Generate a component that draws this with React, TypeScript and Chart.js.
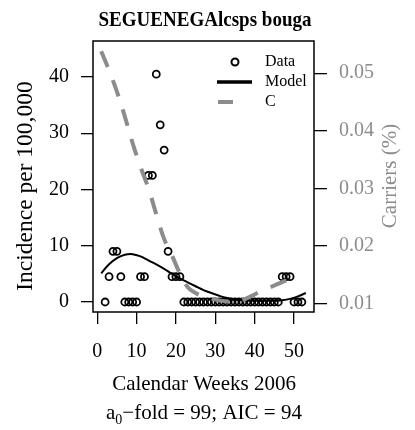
import { useEffect, useRef } from 'react';
import { Chart, registerables } from 'chart.js';
Chart.register(...registerables);

const FONT = "'Liberation Serif', 'Times New Roman', serif";
const GREY = '#8c8c8c';

// Observed incidence (per 100,000) by calendar week
const dataWeeks = [2, 3, 4, 5, 6, 7, 8, 9, 10, 11, 12, 13, 14, 15, 16, 17, 18, 19, 20, 21, 22, 23, 24, 25, 26, 27, 28, 29, 30, 31, 32, 33, 34, 35, 36, 37, 38, 39, 40, 41, 42, 43, 44, 45, 46, 47, 48, 49, 50, 51, 52];
const incidence = [0, 4.5, 9, 9, 4.5, 0, 0, 0, 0, 4.5, 4.5, 22.5, 22.5, 40.5, 31.5, 27, 9, 4.5, 4.5, 4.5, 0, 0, 0, 0, 0, 0, 0, 0, 0, 0, 0, 0, 0, 0, 0, 0, 0, 0, 0, 0, 0, 0, 0, 0, 0, 4.5, 4.5, 4.5, 0, 0, 0];

// Model fit
const modelWeeks = [1, 3, 5, 7, 9, 11, 13, 15, 17, 19, 21, 23, 25, 27, 29, 31, 33, 35, 37, 39, 41, 43, 45, 47, 49, 51, 53];
const modelValues = [5.1, 6.7, 7.8, 8.4, 8.5, 8.1, 7.4, 6.7, 5.9, 5.0, 4.2, 3.5, 2.8, 2.1, 1.6, 1.1, 0.7, 0.45, 0.3, 0.22, 0.2, 0.2, 0.22, 0.3, 0.55, 1.0, 1.6];

// Carriers (C)
const carrierWeeks = [1, 3, 5, 7, 9, 11, 13, 15, 17, 19, 21, 23, 25, 27, 29, 31, 33, 35, 37, 39, 41, 43, 45, 47, 49, 51];
const carrierValues = [0.0538, 0.0505, 0.0468, 0.0425, 0.0378, 0.0337, 0.0300, 0.0255, 0.0212, 0.0183, 0.0152, 0.0128, 0.0118, 0.0112, 0.0108, 0.0105, 0.0103, 0.0103, 0.0106, 0.0112, 0.0119, 0.0125, 0.0131, 0.0137, 0.0141, 0.0143];

const xTicks = [0, 10, 20, 30, 40, 50];
const yTicks = [0, 10, 20, 30, 40];
const y2Ticks = [0.01, 0.02, 0.03, 0.04, 0.05];

const TITLE = 'SEGUENEGAlcsps bouga';
const X_TITLE = 'Calendar Weeks 2006';
const Y_TITLE = 'Incidence per 100,000';
const Y2_TITLE = 'Carriers (%)';
const legendLabels = ['Data', 'Model', 'C'];

const rPlugin = {
  id: 'rstyle',
  afterDraw(chart: any) {
    const { ctx, chartArea: a } = chart;
    ctx.save();
    // box
    ctx.strokeStyle = '#000';
    ctx.lineWidth = 1.5;
    ctx.setLineDash([]);
    ctx.strokeRect(a.left, a.top, a.right - a.left, a.bottom - a.top);

    // title (condensed to match Times Bold width)
    ctx.fillStyle = '#000';
    ctx.textAlign = 'center';
    ctx.textBaseline = 'middle';
    ctx.font = `bold 22px ${FONT}`;
    const tw = ctx.measureText(TITLE).width;
    ctx.save();
    ctx.translate(205, 20);
    ctx.scale(213 / tw, 1);
    ctx.fillText(TITLE, 0, 0);
    ctx.restore();

    // x title
    ctx.font = `21px ${FONT}`;
    ctx.fillText(X_TITLE, 204, 384);

    // subtitle with subscript
    ctx.textBaseline = 'alphabetic';
    ctx.textAlign = 'left';
    const mainFont = `21px ${FONT}`;
    const subFont = `14px ${FONT}`;
    ctx.font = mainFont;
    const w1 = ctx.measureText('a').width;
    const rest = '\u2212fold = 99; AIC = 94';
    const w3 = ctx.measureText(rest).width;
    ctx.font = subFont;
    const w2 = ctx.measureText('0').width;
    const x0 = 204 - (w1 + w2 + w3) / 2;
    ctx.font = mainFont;
    ctx.fillText('a', x0, 419);
    ctx.font = subFont;
    ctx.fillText('0', x0 + w1, 424);
    ctx.font = mainFont;
    ctx.fillText(rest, x0 + w1 + w2, 419);

    // y titles
    ctx.textAlign = 'center';
    ctx.textBaseline = 'middle';
    ctx.save();
    ctx.translate(26, 186);
    ctx.rotate(-Math.PI / 2);
    ctx.font = `23.5px ${FONT}`;
    ctx.fillText(Y_TITLE, 0, 0);
    ctx.restore();
    ctx.save();
    ctx.translate(390, 176);
    ctx.rotate(-Math.PI / 2);
    ctx.font = `21px ${FONT}`;
    ctx.fillStyle = GREY;
    ctx.fillText(Y2_TITLE, 0, 0);
    ctx.restore();

    // legend
    ctx.font = `16px ${FONT}`;
    ctx.textAlign = 'left';
    ctx.fillStyle = '#000';
    ctx.fillText(legendLabels[0], 265, 62);
    ctx.fillText(legendLabels[1], 265, 82);
    ctx.fillText(legendLabels[2], 265, 102);
    ctx.beginPath();
    ctx.lineWidth = 2;
    ctx.arc(235, 62, 3.5, 0, Math.PI * 2);
    ctx.stroke();
    ctx.beginPath();
    ctx.lineWidth = 3.5;
    ctx.moveTo(217, 82);
    ctx.lineTo(252, 82);
    ctx.stroke();
    ctx.beginPath();
    ctx.strokeStyle = GREY;
    ctx.lineWidth = 4;
    ctx.moveTo(218, 102);
    ctx.lineTo(233, 102);
    ctx.stroke();
    ctx.restore();
  },
};

export default function App() {
  const ref = useRef<HTMLCanvasElement>(null);
  useEffect(() => {
    if (!ref.current) return;
    const tickFont = { family: FONT, size: 20 };
    const chart = new Chart(ref.current, {
      type: 'scatter',
      data: {
        datasets: [
          {
            label: legendLabels[2],
            data: carrierWeeks.map((w, i) => ({ x: w, y: carrierValues[i] })),
            yAxisID: 'y2',
            showLine: true,
            borderColor: GREY,
            borderWidth: 4,
            borderDash: [17, 14],
            pointRadius: 0,
            tension: 0.4,
            order: 0,
          } as any,
          {
            label: legendLabels[1],
            data: modelWeeks.map((w, i) => ({ x: w, y: modelValues[i] })),
            yAxisID: 'y',
            showLine: true,
            borderColor: '#000',
            borderWidth: 2,
            pointRadius: 0,
            tension: 0.4,
            order: 1,
          } as any,
          {
            label: legendLabels[0],
            data: dataWeeks.map((w, i) => ({ x: w, y: incidence[i] })),
            yAxisID: 'y',
            showLine: false,
            borderColor: '#000',
            backgroundColor: 'rgba(0,0,0,0)',
            borderWidth: 1.8,
            pointRadius: 3.5,
            order: 2,
          } as any,
        ],
      },
      options: {
        responsive: false,
        animation: false,
        layout: { padding: { top: 41, left: 0, right: 0, bottom: 0 } },
        plugins: { legend: { display: false }, tooltip: { enabled: false }, title: { display: false } },
        scales: {
          x: {
            type: 'linear',
            position: 'bottom',
            min: -1.08,
            max: 55.08,
            afterBuildTicks: (s: any) => { s.ticks = xTicks.map((v) => ({ value: v })); },
            afterFit: (s: any) => { s.height = 118; },
            grid: { drawOnChartArea: false, drawTicks: true, tickLength: 12, color: '#000', lineWidth: 1.3 },
            border: { display: false },
            ticks: { font: tickFont, color: '#000', padding: 16, maxRotation: 0, autoSkip: false, callback: (v: any) => String(v) },
          },
          y: {
            position: 'left',
            min: -1.78,
            max: 46.4,
            afterBuildTicks: (s: any) => { s.ticks = yTicks.map((v) => ({ value: v })); },
            afterFit: (s: any) => { s.width = 93; },
            grid: { drawOnChartArea: false, drawTicks: true, tickLength: 12, color: '#000', lineWidth: 1.3 },
            border: { display: false },
            ticks: { font: tickFont, color: '#000', padding: 12, autoSkip: false, callback: (v: any) => String(v) },
          },
          y2: {
            position: 'right',
            min: 0.00849,
            max: 0.0556,
            afterBuildTicks: (s: any) => { s.ticks = y2Ticks.map((v) => ({ value: v })); },
            afterFit: (s: any) => { s.width = 101; },
            grid: { drawOnChartArea: false, drawTicks: true, tickLength: 13, color: '#000', lineWidth: 1.3 },
            border: { display: false },
            ticks: { font: tickFont, color: GREY, padding: 12, autoSkip: false, callback: (v: any) => Number(v).toFixed(2) },
          },
        },
      } as any,
      plugins: [rPlugin],
    });
    return () => chart.destroy();
  }, []);
  return (
    <div style={{ position: 'fixed', left: 0, top: 0, width: 415, height: 430, background: '#fff' }}>
      <canvas ref={ref} width={415} height={430} style={{ display: 'block', width: 415, height: 430 }} />
    </div>
  );
}
